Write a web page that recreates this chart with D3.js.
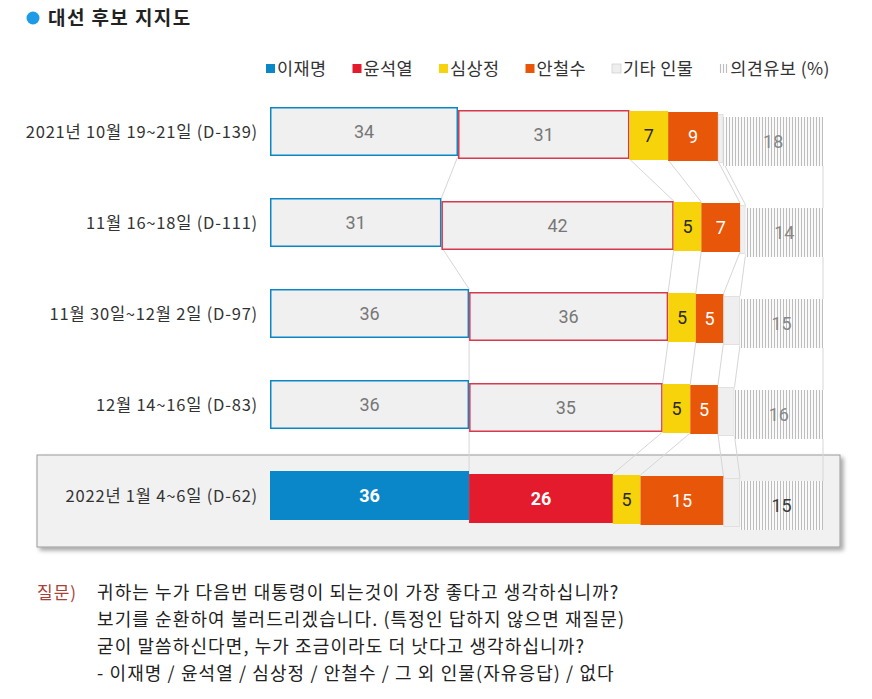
<!DOCTYPE html>
<html><head><meta charset="utf-8">
<script src="https://cdn.jsdelivr.net/npm/d3@7"></script>
<style>body{margin:0;background:#fff}svg{display:block}</style>
</head><body>
<svg id="c" width="872" height="699"></svg>
<script>
const rows = ["2021년 10월 19~21일 (D-139)","11월 16~18일 (D-111)","11월 30일~12월 2일 (D-97)","12월 14~16일 (D-83)","2022년 1월 4~6일 (D-62)"];
const series = ["이재명","윤석열","심상정","안철수","기타 인물","의견유보"];
const leeJM   = [34,31,36,36,36];
const yoonSY  = [31,42,36,35,26];
const simSJ   = [7,5,5,5,5];
const ahnCS   = [9,7,5,5,15];
const others  = [1,1,3,3,3];
const undecided = [18,14,15,16,15];
const legendSuffix = " (%)";
const title = "대선 후보 지지도";
const questionLabel = "질문)";
const questionLines = ["귀하는 누가 다음번 대통령이 되는것이 가장 좋다고 생각하십니까?","보기를 순환하여 불러드리겠습니다. (특정인 답하지 않으면 재질문)","굳이 말씀하신다면, 누가 조금이라도 더 낫다고 생각하십니까?","- 이재명 / 윤석열 / 심상정 / 안철수 / 그 외 인물(자유응답) / 없다"];

const values = [leeJM,yoonSY,simSJ,ahnCS,others,undecided];
const highlight = 4;
const FONT = "'Noto Sans CJK KR','Noto Sans',sans-serif";
const NUMFONT = "Roboto,'Noto Sans',sans-serif";
const stagger = [0,3,4,5,7,10];
const barH = 49;
const blue="#0a87c9", red="#e31b2c", yellow="#f7d30c", orange="#e8560a";

const svg = d3.select("#c");
const defs = svg.append("defs");
const pat = defs.append("pattern").attr("id","hatch").attr("patternUnits","userSpaceOnUse").attr("width",3).attr("height",10);
pat.append("rect").attr("width",3).attr("height",10).attr("fill","#fafafa");
pat.append("rect").attr("x",0).attr("width",1).attr("height",10).attr("fill","#bdbdbd");
const f = defs.append("filter").attr("id","sh").attr("x","-5%").attr("y","-20%").attr("width","115%").attr("height","150%");
f.append("feDropShadow").attr("dx",3).attr("dy",3).attr("stdDeviation",2).attr("flood-color","#000").attr("flood-opacity",0.35);

const x = d3.scaleLinear().domain([0,100]).range([270,823]);
const y = d3.scalePoint().domain(rows).range([107,471]);

// title
svg.append("circle").attr("cx",33).attr("cy",18).attr("r",6.5).attr("fill","#1e9be6");
svg.append("text").attr("x",48).attr("y",25).attr("font-family",FONT).attr("font-weight","bold").attr("font-size",19).attr("letter-spacing",1.4).attr("fill","#222").text(title);

// legend
const legFill = [blue,red,yellow,orange,"#eeeeee","url(#hatch)"];
let lx = 266;
series.forEach((s,i)=>{
  const g = svg.append("g");
  g.append("rect").attr("x",lx).attr("y",64).attr("width",9).attr("height",9).attr("fill",legFill[i]).attr("stroke",i===4?"#ccc":"none").attr("stroke-width",0.7);
  const t = g.append("text").attr("x",lx+11).attr("y",75).attr("font-family",FONT).attr("font-size",17.5).attr("letter-spacing",0.4).attr("fill","#333").text(s + (i===5?legendSuffix:""));
  lx += 11 + t.node().getComputedTextLength() + 26;
});

// highlight box
svg.append("rect").attr("x",37).attr("y",455).attr("width",803).attr("height",92).attr("fill","#f1f1f1").attr("stroke","#9a9a9a").attr("stroke-width",1).attr("filter","url(#sh)");

// cumulative
const cum = rows.map((r,ri)=>{ let a=0; return values.map(v=>{const s=a; a+=v[ri]; return [s,a];}); });

// connectors
const conn = svg.append("g").attr("fill","none").attr("stroke","#d6d6d6").attr("stroke-width",1);
for (let ri=0; ri<rows.length-1; ri++){
  values.forEach((v,si)=>{
    const x1 = x(cum[ri][si][1]), x2 = x(cum[ri+1][si][1]);
    const y1 = y(rows[ri]) + stagger[si] + barH;
    const y2 = y(rows[ri+1]) + stagger[si];
    conn.append("line").attr("x1",x1).attr("y1",y1).attr("x2",x2).attr("y2",y2);
  });
}

// row labels
rows.forEach((r,ri)=>{
  svg.append("text").attr("x",258).attr("y",y(r)+31).attr("text-anchor","end").attr("font-family",FONT).attr("font-size",16.5).attr("letter-spacing",0.8).attr("fill","#333").text(r);
});

// bars
rows.forEach((r,ri)=>{
  const hl = ri===highlight;
  values.forEach((v,si)=>{
    const [a,b] = cum[ri][si];
    const bx = x(a), bw = x(b)-x(a), by = y(r)+stagger[si];
    let fill, stroke="none", sw=0;
    if (si===0){ fill = hl?blue:"#f0f0f0"; if(!hl){stroke=blue;sw=1.5;} }
    else if (si===1){ fill = hl?red:"#f0f0f0"; if(!hl){stroke="#d8394c";sw=1.5;} }
    else if (si===2) fill = yellow;
    else if (si===3) fill = orange;
    else if (si===4){ fill="#efefef"; stroke="#dcdcdc"; sw=0.8; }
    else fill = "url(#hatch)";
    const inset = sw/2;
    svg.append("rect").attr("x",bx+inset).attr("y",by+inset).attr("width",Math.max(0,bw-sw)).attr("height",barH-sw)
      .attr("fill",fill).attr("stroke",stroke).attr("stroke-width",sw);
    if (si===4) return;
    let col;
    if (si<=1) col = hl?"#fff":"#777";
    else if (si===2) col="#2a2a2a";
    else if (si===3) col="#fff";
    else col = hl?"#3a3a3a":"#888";
    svg.append("text").attr("x",bx+bw/2).attr("y",by+barH/2+6).attr("text-anchor","middle")
      .attr("font-family",NUMFONT).attr("font-size",18).attr("font-weight",hl&&si<=1?"bold":"normal").attr("fill",col).text(v[ri]);
  });
});

// question
svg.append("text").attr("x",37).attr("y",599).attr("font-family",FONT).attr("font-size",17).attr("letter-spacing",1).attr("fill","#a8413a").text(questionLabel);
questionLines.forEach((q,i)=>{
  svg.append("text").attr("x",97).attr("y",599+i*27).attr("font-family",FONT).attr("font-size",18).attr("letter-spacing",1.1).attr("fill","#222").text(q);
});
</script>
</body></html>
